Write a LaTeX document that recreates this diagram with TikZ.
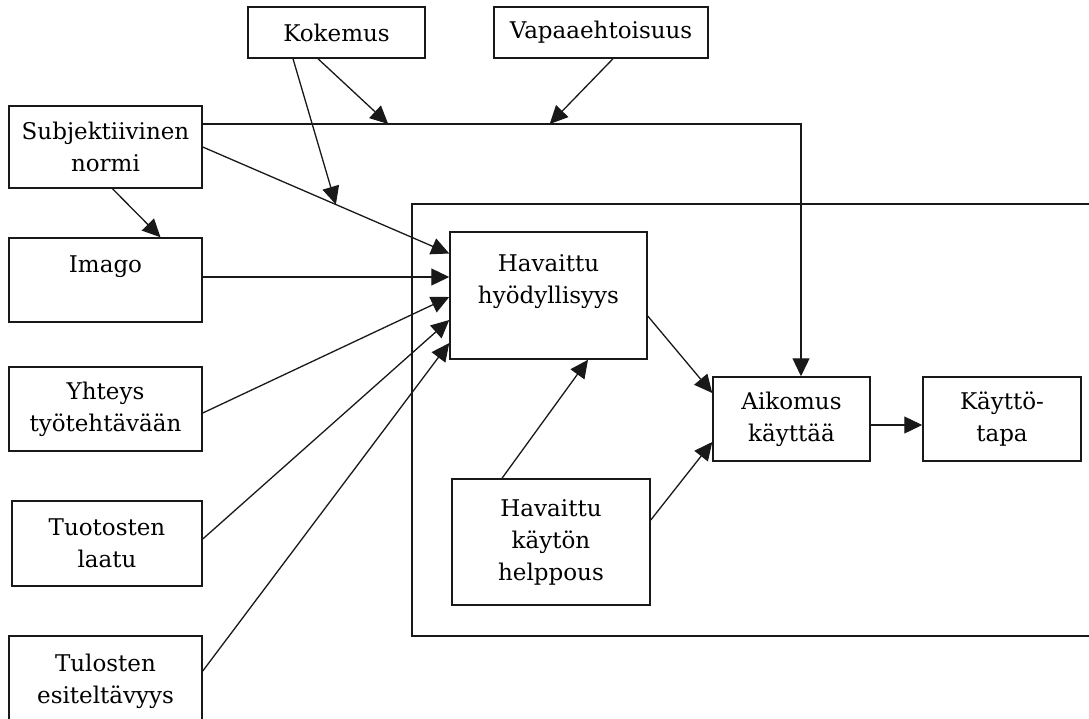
\documentclass[tikz,border=0pt]{standalone}
\usepackage{fontspec}
\setmainfont{DejaVu Serif}
\usetikzlibrary{arrows.meta,calc}
\begin{document}
\begin{tikzpicture}[x=1pt,y=-1pt,
  every node/.style={font=\fontsize{23}{32}\selectfont},
  box/.style={draw=black!90, line width=1.5pt, rectangle, inner sep=0pt, align=center},
  frame/.style={draw=black!90, line width=1.5pt},
  conn/.style={draw=black!90, line width=1.3pt, -{Triangle[length=18pt,width=17pt]}}
]
\useasboundingbox (0,0) rectangle (1089,718);
\fill[white] (0,0) rectangle (1089,718);
\clip (0,0) rectangle (1089,718);

% model frame around the core constructs
\draw[frame] (1100,204) -- (412,204) -- (412,636) -- (1100,636);

% external factors
\node[box, minimum width=177pt, minimum height=51pt] (kok) at (336.5,32.5) {Kokemus};
\node[box, minimum width=214pt, minimum height=51pt] (vap) at (601,32.5) {Vapaaehtoisuus};
\node[box, minimum width=193pt, minimum height=82pt] (subj) at (105.5,147) {Subjektiivinen\\normi};
\node[box, minimum width=193pt, minimum height=84pt] (imago) at (105.5,280) {Imago\\\mbox{}};
\node[box, minimum width=193pt, minimum height=84pt] (yht) at (105.5,409) {Yhteys\\työtehtävään};
\node[box, minimum width=190pt, minimum height=85pt] (tuot) at (107,543.5) {Tuotosten\\laatu};
\node[box, minimum width=193pt, minimum height=90pt] (tul) at (105.5,681) {Tulosten\\esiteltävyys};

% core constructs
\node[box, minimum width=197pt, minimum height=127pt] (hh) at (548.5,295.5) {Havaittu\\hyödyllisyys\\\mbox{}};
\node[box, minimum width=198pt, minimum height=126pt] (hkh) at (551,542) {Havaittu\\käytön\\helppous};
\node[box, minimum width=157pt, minimum height=84pt] (aik) at (791.5,419) {Aikomus\\käyttää};
\node[box, minimum width=158pt, minimum height=84pt] (kay) at (1002,419) {Käyttö-\\tapa};

% influences on perceived usefulness
\draw[conn] (subj.east) -- coordinate[pos=0.54] (m1) ($(hh.west)+(0,-42)$);
\draw[conn] ($(imago.east)+(0,-3)$) -- ($(hh.west)+(0,-18.5)$);
\draw[conn] ($(yht.east)+(0,4)$) -- ($(hh.west)+(0,1.5)$);
\draw[conn] ($(tuot.east)+(0,-4.5)$) -- ($(hh.west)+(0,24.5)$);
\draw[conn] ($(tul.east)+(0,-10)$) -- ($(hh.west)+(0,47.5)$);

% subjective norm to image and to intention
\draw[conn] ($(subj.south)+(7,0)$) -- ($(imago.north)+(55,0)$);
\coordinate (jt) at ($(subj.east)+(0,-23)$);
\draw[conn] (jt) -| coordinate[pos=0.155] (m2) coordinate[pos=0.29] (m3) ($(aik.north)+(9.5,0)$);

% moderators
\draw[conn] ($(kok.south)+(-43.5,0)$) -- (m1);
\draw[conn] ($(kok.south)+(-18.5,0)$) -- (m2);
\draw[conn] ($(vap.south)+(12,0)$) -- (m3);

% core model
\draw[conn] ($(hh.east)+(0,20.5)$) -- ($(aik.west)+(0,-26)$);
\draw[conn] ($(hkh.east)+(0,-22)$) -- ($(aik.west)+(0,23)$);
\draw[conn] ($(hkh.north)+(-49,0)$) -- ($(hh.south)+(39.5,0)$);
\draw[conn] ($(aik.east)+(0,6)$) -- ($(kay.west)+(0,6)$);
\end{tikzpicture}
\end{document}
